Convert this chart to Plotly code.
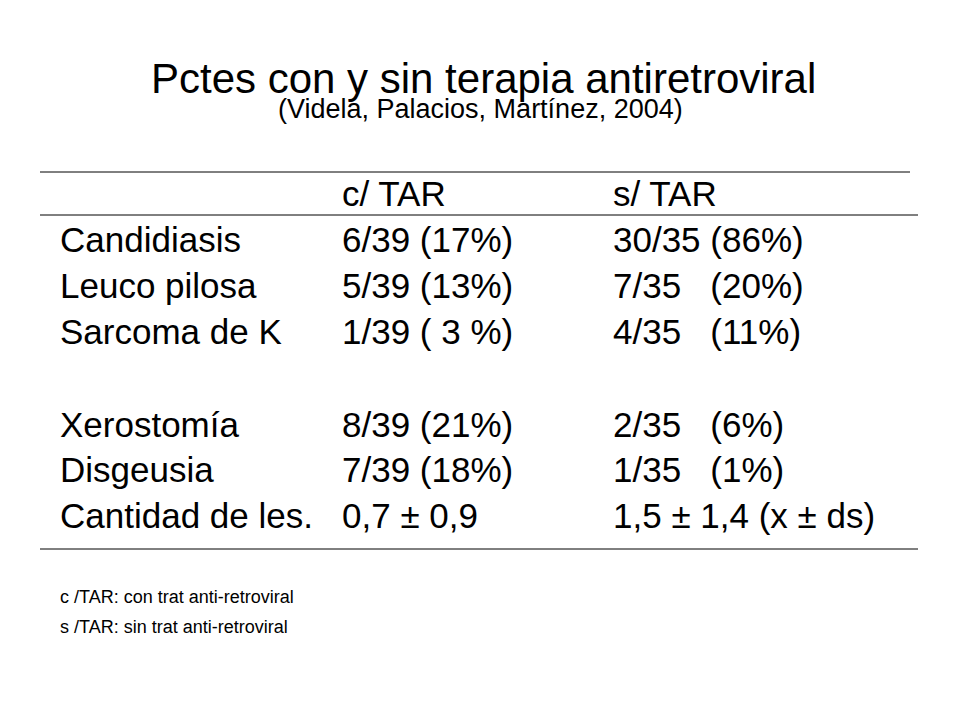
import plotly.graph_objects as go

# ---------------------------------------------------
# DATA
# ---------------------------------------------------
title = "Pctes con y sin terapia antiretroviral"
subtitle = "(Videla, Palacios, Martínez, 2004)"

headers = ["", "c/ TAR", "s/ TAR"]
variables = ["Candidiasis", "Leuco pilosa", "Sarcoma de K", "",
             "Xerostomía", "Disgeusia", "Cantidad de les."]
con_tar = ["6/39 (17%)", "5/39 (13%)", "1/39 ( 3 %)", "",
           "8/39 (21%)", "7/39 (18%)", "0,7 ± 0,9"]
sin_tar = ["30/35 (86%)", "7/35   (20%)", "4/35   (11%)", "",
           "2/35   (6%)", "1/35   (1%)", "1,5 ± 1,4 (x ± ds)"]
notes = ["c /TAR: con trat anti-retroviral", "s /TAR: sin trat anti-retroviral"]

# ---------------------------------------------------
# LAYOUT CONSTANTS (pixel-like coordinates)
# ---------------------------------------------------
col_x = [60, 342, 613]
header_y = 197
row_y = [243, 289, 335, 381, 428, 473, 519]
note_y = [598, 628]
font = "Liberation Sans, Arial, sans-serif"
off = 8  # page body margin


def nb(s):
    return s.replace("  ", "\u00a0\u00a0")


fig = go.Figure()

columns = [variables, con_tar, sin_tar]
for i, col in enumerate(columns):
    fig.add_trace(go.Scatter(
        x=[col_x[i]] * (len(col) + 1),
        y=[header_y] + row_y,
        text=[headers[i]] + [nb(v) for v in col],
        mode="text",
        textposition="middle right",
        textfont=dict(family=font, size=35, color="black"),
        hoverinfo="skip",
        showlegend=False,
    ))

fig.add_trace(go.Scatter(
    x=[col_x[0]] * len(notes),
    y=note_y,
    text=notes,
    mode="text",
    textposition="middle right",
    textfont=dict(family=font, size=18, color="black"),
    hoverinfo="skip",
    showlegend=False,
))

for y, x1 in [(172, 910), (215, 918), (549, 918)]:
    fig.add_shape(type="line", x0=40, x1=x1, y0=y, y1=y,
                  line=dict(color="black", width=1))

fig.add_annotation(x=483, y=78, text=title, showarrow=False,
                   font=dict(family=font, size=42, color="black"))
fig.add_annotation(x=480, y=109, text=subtitle, showarrow=False,
                   font=dict(family=font, size=27, color="black"))

fig.update_layout(
    width=960, height=720,
    margin=dict(l=0, r=0, t=0, b=0),
    plot_bgcolor="white", paper_bgcolor="white",
    xaxis=dict(range=[off, 960 + off], visible=False, fixedrange=True),
    yaxis=dict(range=[720 + off, off], visible=False, fixedrange=True),
)

fig.write_html("out.html")
